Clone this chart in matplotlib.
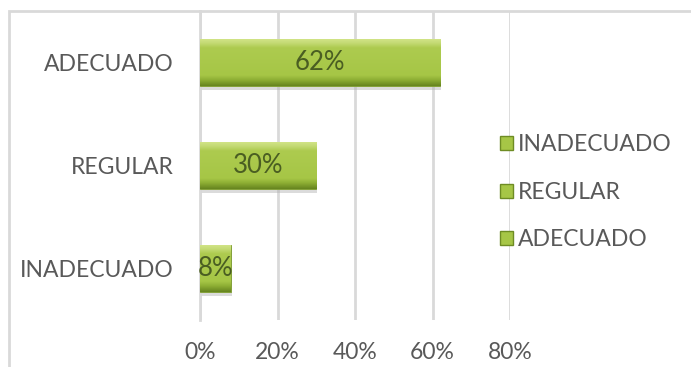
import matplotlib
matplotlib.use('Agg')
import matplotlib.pyplot as plt
import numpy as np
from matplotlib.patches import Rectangle
from matplotlib.colors import LinearSegmentedColormap

categories = ['INADECUADO', 'REGULAR', 'ADECUADO']
values = [0.08, 0.30, 0.62]
xticks = [0, 0.2, 0.4, 0.6, 0.8]
xtick_labels = ['0%', '20%', '40%', '60%', '80%']

plt.rcParams['font.family'] = ['Lato', 'DejaVu Sans']
grey_text = '#595959'

fig = plt.figure(figsize=(6.91, 3.67), dpi=100)
# outer chart frame
fig.patches.append(Rectangle((9 / 691, -0.05), 1.0, 1 - 11 / 367 + 0.05,
                             transform=fig.transFigure, fill=False,
                             edgecolor='#d9d9d9', linewidth=2))

ax = fig.add_axes([200 / 691, 1 - 320 / 367, 310 / 691, 309 / 367])
ax.set_xlim(0, 0.8)
ax.set_ylim(-0.5, 2.5)

# bevelled green fill: dark bottom edge, flat body, light top edge
green = LinearSegmentedColormap.from_list(
    'g', [(0.0, '#66841f'), (0.12, '#8cad33'), (0.22, '#a6c646'),
          (0.8, '#adcb4f'), (0.9, '#c4da74'), (1.0, '#d4e68b')])
grad = np.linspace(0, 1, 128).reshape(-1, 1)

bars = ax.barh(range(len(categories)), values, height=0.46,
               color='#a6c646', edgecolor='#7a9a2c', linewidth=0.6, zorder=3)
for b, v in zip(bars, values):
    x0, y0 = b.get_x(), b.get_y()
    w, h = b.get_width(), b.get_height()
    # soft shadow under each bar
    ax.add_patch(Rectangle((x0 + 0.003, y0 - 0.035), w, h, color='#b0b0b0',
                           alpha=0.45, zorder=2, linewidth=0))
    im = ax.imshow(grad, extent=[x0, x0 + w, y0, y0 + h], cmap=green,
                   aspect='auto', origin='lower', zorder=4)
    im.set_clip_path(b)
    ax.text(v / 2, y0 + h / 2, f'{v:.0%}', ha='center', va='center',
            fontsize=18.5, color='#4a5e22', zorder=5)

ax.set_yticks(range(len(categories)))
ax.set_yticklabels(categories, fontsize=16.5, color=grey_text)
ax.set_xticks(xticks)
ax.set_xticklabels(xtick_labels, fontsize=16.5, color=grey_text)
ax.tick_params(axis='both', length=0)
ax.tick_params(axis='y', pad=19)
ax.tick_params(axis='x', pad=16)
ax.xaxis.grid(True, color='#d9d9d9', linewidth=2, zorder=0)
ax.set_axisbelow(True)
for s in ['top', 'right', 'bottom']:
    ax.spines[s].set_visible(False)
ax.spines['left'].set_color('#d9d9d9')
ax.spines['left'].set_linewidth(2)
ax.set_aspect('auto')

handles = [Rectangle((0, 0), 1, 1, facecolor='#a6c646', edgecolor='#6e8c24')
           for _ in categories]
leg = fig.legend(handles[::-1], categories, loc='upper left',
                 bbox_to_anchor=(489 / 691, 1 - 123 / 367), frameon=False,
                 fontsize=16.5, handlelength=0.55, handleheight=0.55,
                 handletextpad=0.2, labelspacing=1.15, borderpad=0)
for t in leg.get_texts():
    t.set_color(grey_text)

plt.savefig('out.png', dpi=100)
